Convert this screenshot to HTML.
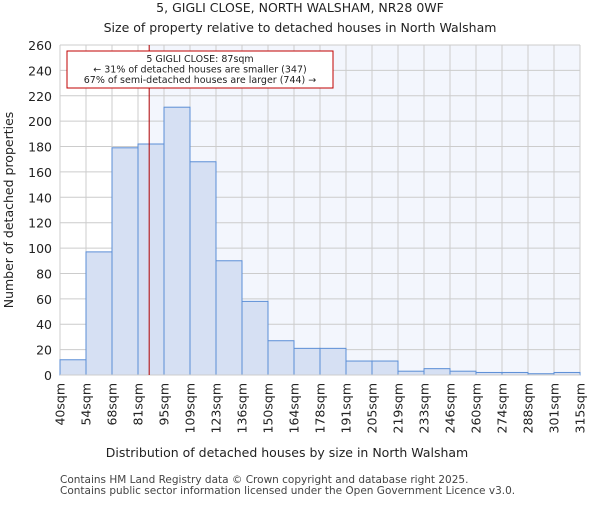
<!DOCTYPE html>
<html><head><meta charset="utf-8"><style>body{margin:0;background:#fff}svg{font-family:"DejaVu Sans","Liberation Sans",sans-serif}</style></head>
<body>
<svg id="c" width="600" height="500" xmlns="http://www.w3.org/2000/svg"></svg>
<script>
const edges=["40sqm","54sqm","68sqm","81sqm","95sqm","109sqm","123sqm","136sqm","150sqm","164sqm","178sqm","191sqm","205sqm","219sqm","233sqm","246sqm","260sqm","274sqm","288sqm","301sqm","315sqm"];
const counts=[12,97,179,182,211,168,90,58,27,21,21,11,11,3,5,3,2,2,1,2];
const yTicks=[0,20,40,60,80,100,120,140,160,180,200,220,240,260];
const propertyBin=3.43;
const L=60,R=580,T=45,B=375,ymax=260;
const bw=(R-L)/counts.length;
const x=i=>L+i*bw, y=v=>B-(v/ymax)*(B-T);
const s=document.getElementById('c');const NS="http://www.w3.org/2000/svg";
function el(t,a,txt){const e=document.createElementNS(NS,t);for(const k in a)e.setAttribute(k,a[k]);if(txt!=null)e.textContent=txt;s.appendChild(e);return e;}
let e;
e=el('rect',{x:L,y:T,width:R-L,height:B-T,fill:'#f3f6fd'});


const px=x(propertyBin);
el('rect',{x:L,y:T,width:px-L,height:B-T,fill:'#fff'});
for(let i=0;i<edges.length;i++)el('line',{x1:x(i),x2:x(i),y1:T,y2:B,stroke:'#cccccc','stroke-width':1});
yTicks.forEach(v=>{el('line',{x1:L,x2:R,y1:y(v),y2:y(v),stroke:'#cccccc','stroke-width':1});
e=el('text',{x:L-8,y:y(v)+5,'text-anchor':'end','font-size':12.5,fill:'#222'},v);

});
counts.forEach((c,i)=>{e=el('rect',{x:x(i),y:y(c),width:bw,height:B-y(c),fill:'#d6e0f3',stroke:'#5b8ed6','stroke-width':1});

});
edges.forEach((t,i)=>{e=el('text',{transform:`translate(${x(i)+4.5},383) rotate(-90)`,'text-anchor':'end','font-size':12.5,fill:'#222'},t);

});
el('line',{x1:L,x2:R,y1:B,y2:B,stroke:'#ccc'});
e=el('line',{x1:px,x2:px,y1:T,y2:B,stroke:'#b00000','stroke-width':1});


e=el('rect',{x:67,y:51,width:266,height:37,fill:'#fff',stroke:'#c00000','stroke-width':1});


["5 GIGLI CLOSE: 87sqm","← 31% of detached houses are smaller (347)","67% of semi-detached houses are larger (744) →"].forEach((t,i)=>el('text',{x:200,y:62+i*10.5,'text-anchor':'middle','font-size':9.5,fill:'#222'},t));
e=el('text',{x:300,y:12,'text-anchor':'middle','font-size':12.5,fill:'#222'},"5, GIGLI CLOSE, NORTH WALSHAM, NR28 0WF");


e=el('text',{x:300,y:32,'text-anchor':'middle','font-size':12.5,fill:'#222'},"Size of property relative to detached houses in North Walsham");


e=el('text',{x:287,y:457,'text-anchor':'middle','font-size':12.5,fill:'#222'},"Distribution of detached houses by size in North Walsham");


e=el('text',{transform:'translate(13,210) rotate(-90)','text-anchor':'middle','font-size':12.5,fill:'#222'},"Number of detached properties");


e=el('text',{x:60,y:483,'font-size':10.5,fill:'#444'},"Contains HM Land Registry data © Crown copyright and database right 2025.");


e=el('text',{x:60,y:494,'font-size':10.5,fill:'#444'},"Contains public sector information licensed under the Open Government Licence v3.0.");


</script>
</body></html>
